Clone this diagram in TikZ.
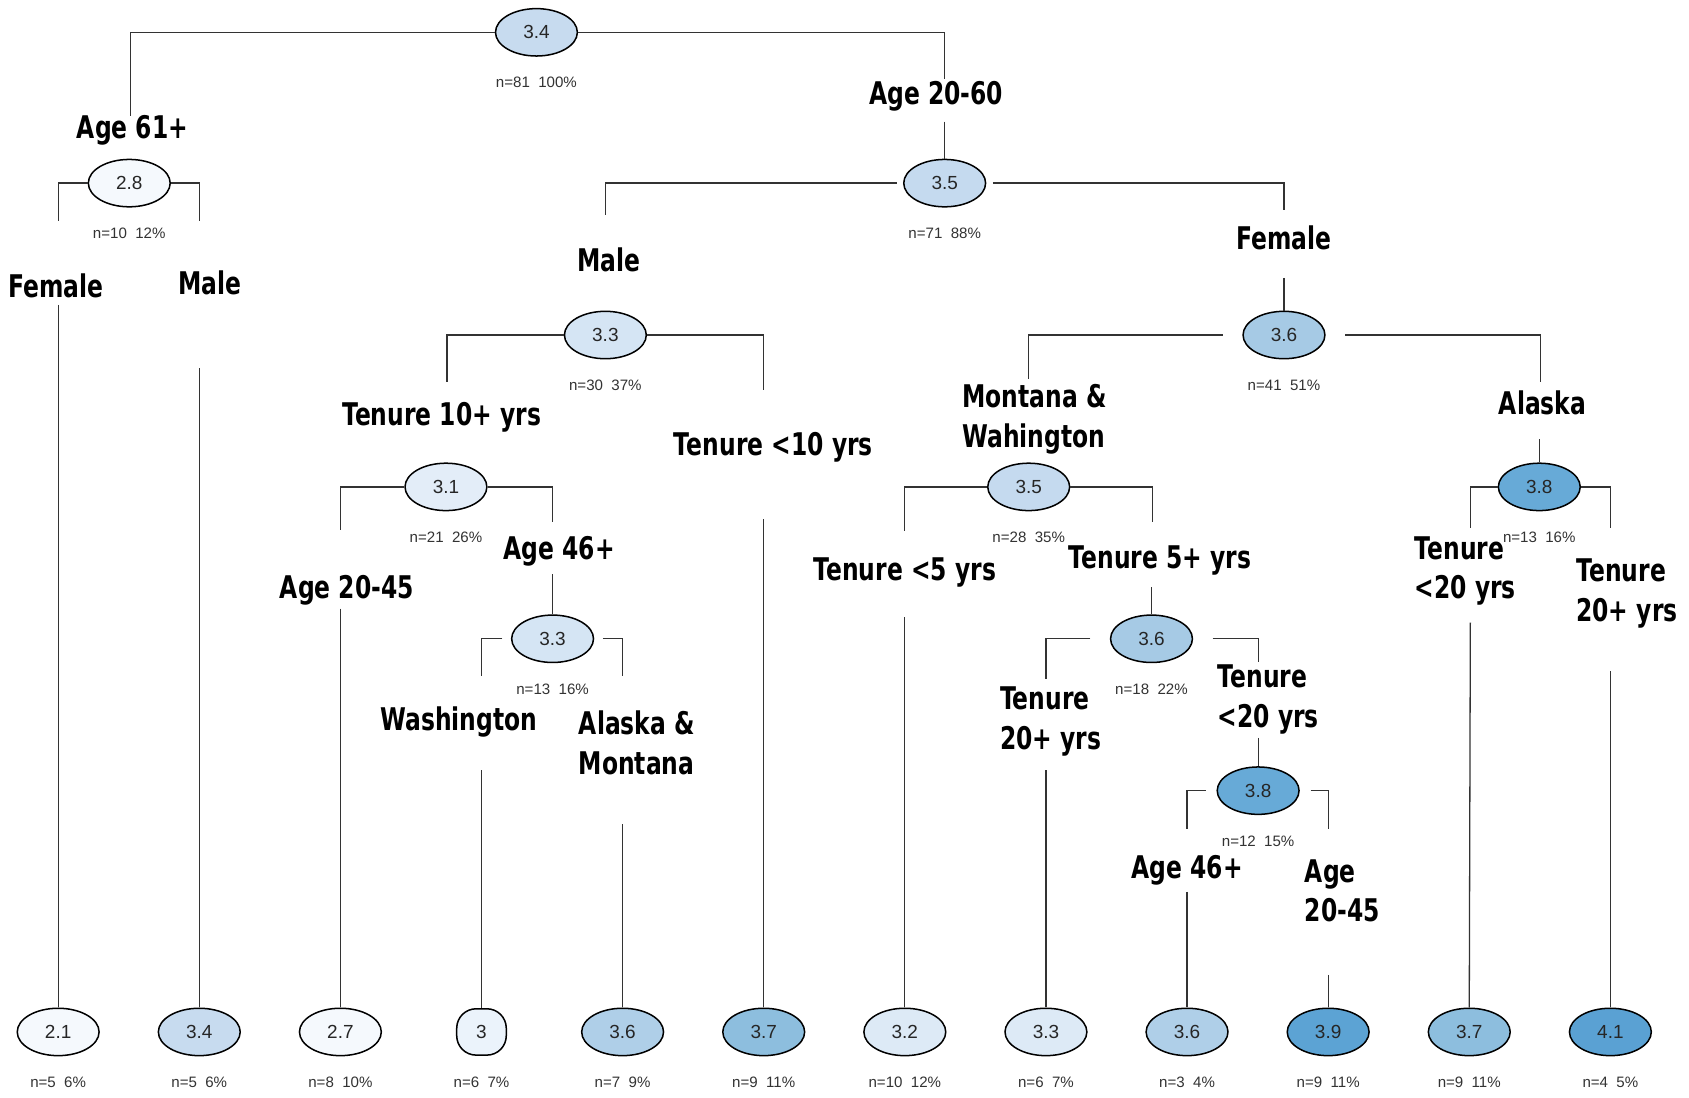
\documentclass[tikz,border=0pt]{standalone}
\usepackage{fontspec}
\setmainfont{Liberation Sans}
\newfontfamily\labfamily[FakeStretch=0.75]{DejaVu Sans}
\usetikzlibrary{shapes.geometric}
\definecolor{c21}{HTML}{F5F9FD}
\definecolor{c30}{HTML}{EBF3FB}
\definecolor{c31}{HTML}{E3EDF8}
\definecolor{c32}{HTML}{DDEAF6}
\definecolor{c33}{HTML}{D5E5F4}
\definecolor{c34}{HTML}{C7DBEF}
\definecolor{c35}{HTML}{C5DAEF}
\definecolor{c36}{HTML}{A6CAE5}
\definecolor{c36l}{HTML}{AFCFE8}
\definecolor{c37}{HTML}{8DBEDE}
\definecolor{c38}{HTML}{67AAD7}
\definecolor{c39}{HTML}{5CA3D4}
\definecolor{c41}{HTML}{5AA1D3}
\tikzset{
  nd/.style={ellipse, draw=black, line width=0.7pt, minimum width=38pt, minimum height=22pt,
    inner sep=0pt, font=\fontsize{8.8}{10}\selectfont, text=black!85},
  rr/.style={rectangle, rounded corners=9pt, draw=black, line width=0.7pt, minimum width=23pt,
    minimum height=21.5pt, inner sep=0pt, font=\fontsize{8.8}{10}\selectfont, text=black!85},
  lab/.style={font=\labfamily\bfseries\fontsize{14.5}{18.5}\selectfont, inner sep=0pt, align=left},
  cnt/.style={font=\fontsize{7}{8}\selectfont, inner sep=0pt, text=black!80},
  br/.style={draw=black!80, line width=0.6pt},
}
\begin{document}
\begin{tikzpicture}[x=0.5pt, y=-0.5pt]
\useasboundingbox (0,0) rectangle (1568,1019);
\fill[white] (0,0) rectangle (1568,1019);

% ---------- internal nodes ----------
\node[nd, fill=c34] (r) at (498,30) {3.4};
\node[cnt] (rc) at (498,76) {n=81\ \ 100\%};
\node[nd, fill=c21] (n28) at (120,170) {2.8};
\node[cnt] (n28c) at (120,217) {n=10\ \ 12\%};
\node[nd, fill=c35] (n35) at (877,170) {3.5};
\node[cnt] (n35c) at (877,217) {n=71\ \ 88\%};
\node[nd, fill=c33] (n33) at (562,311) {3.3};
\node[cnt] (n33c) at (562,358) {n=30\ \ 37\%};
\node[nd, fill=c31] (n31) at (414,452) {3.1};
\node[cnt] (n31c) at (414,499) {n=21\ \ 26\%};
\node[nd, fill=c33] (n33b) at (513,593) {3.3};
\node[cnt] (n33bc) at (513,640) {n=13\ \ 16\%};
\node[nd, fill=c36] (n36) at (1192,311) {3.6};
\node[cnt] (n36c) at (1192,358) {n=41\ \ 51\%};
\node[nd, fill=c35] (n35b) at (955,452) {3.5};
\node[cnt] (n35bc) at (955,499) {n=28\ \ 35\%};
\node[nd, fill=c36] (n36b) at (1069,593) {3.6};
\node[cnt] (n36bc) at (1069,640) {n=18\ \ 22\%};
\node[nd, fill=c38] (n38b) at (1168,734) {3.8};
\node[cnt] (n38bc) at (1168,781) {n=12\ \ 15\%};
\node[nd, fill=c38] (n38) at (1429,452) {3.8};
\node[cnt] (n38c) at (1429,499) {n=13\ \ 16\%};

% ---------- leaves ----------
\node[nd, fill=c21] (L1) at (54,958) {2.1};
\node[nd, fill=c34] (L2) at (185,958) {3.4};
\node[nd, fill=c21] (L3) at (316,958) {2.7};
\node[rr, fill=c30] (L4) at (447,958) {3};
\node[nd, fill=c36l] (L5) at (578,958) {3.6};
\node[nd, fill=c37] (L6) at (709,958) {3.7};
\node[nd, fill=c32] (L7) at (840,958) {3.2};
\node[nd, fill=c32] (L8) at (971,958) {3.3};
\node[nd, fill=c36l] (L9) at (1102,958) {3.6};
\node[nd, fill=c39] (L10) at (1233,958) {3.9};
\node[nd, fill=c37] (L11) at (1364,958) {3.7};
\node[nd, fill=c41] (L12) at (1495,958) {4.1};
\node[cnt] at (54,1005) {n=5\ \ 6\%};
\node[cnt] at (185,1005) {n=5\ \ 6\%};
\node[cnt] at (316,1005) {n=8\ \ 10\%};
\node[cnt] at (447,1005) {n=6\ \ 7\%};
\node[cnt] at (578,1005) {n=7\ \ 9\%};
\node[cnt] at (709,1005) {n=9\ \ 11\%};
\node[cnt] at (840,1005) {n=10\ \ 12\%};
\node[cnt] at (971,1005) {n=6\ \ 7\%};
\node[cnt] at (1102,1005) {n=3\ \ 4\%};
\node[cnt] at (1233,1005) {n=9\ \ 11\%};
\node[cnt] at (1364,1005) {n=9\ \ 11\%};
\node[cnt] at (1495,1005) {n=4\ \ 5\%};

% ---------- labels ----------
\node[lab] (a61) at (123,121) {Age 61+};
\node[lab] (a2060) at (869,89) {Age 20-60};
\node[lab] (fL) at (52,265) {Female};
\node[lab] (mL) at (195,263) {Male};
\node[lab] (mM) at (565,241) {Male};
\node[lab] (fR) at (1192,221) {Female};
\node[lab] (t10p) at (410,387) {Tenure 10+ yrs};
\node[lab] (t10m) at (718,415) {Tenure <10 yrs};
\node[lab] (a2045) at (322,548) {Age 20-45};
\node[lab] (a46) at (519,512) {Age 46+};
\node[lab] (wa) at (426,670) {Washington};
\node[lab, anchor=west] (akmt) at (537,690) {Alaska \&\\Montana};
\node[lab, anchor=west] (mtwa) at (893,389) {Montana \&\\Wahington};
\node[lab] (ak) at (1432,374) {Alaska};
\node[lab] (t5m) at (840,531) {Tenure <5 yrs};
\node[lab] (t5p) at (1077,520) {Tenure 5+ yrs};
\node[lab, anchor=west] (t20pA) at (928,670) {Tenure\\20+ yrs};
\node[lab, anchor=west] (t20mA) at (1130,649) {Tenure\\<20 yrs};
\node[lab] (a46b) at (1102,808) {Age 46+};
\node[lab, anchor=west] (a2045b) at (1211,827) {Age\\20-45};
\node[lab, anchor=west] (t20mB) at (1313,530) {Tenure\\<20 yrs};
\node[lab, anchor=west] (t20pB) at (1463,551) {Tenure\\20+ yrs};

% ---------- free ends ----------
\coordinate (e1) at (121,108);
\coordinate (e2) at (877,73);
\coordinate (e3) at (877,113);
\coordinate (e4) at (54,205);
\coordinate (e5) at (185,205);
\coordinate (e6) at (54,283);
\coordinate (e7) at (185,342);
\coordinate (e8) at (562,200);
\coordinate (e9) at (1192,195);
\coordinate (e10) at (1192,258);
\coordinate (e11) at (415,355);
\coordinate (e12) at (709,362);
\coordinate (e13) at (316,492);
\coordinate (e14) at (513,485);
\coordinate (e15) at (316,565);
\coordinate (e16) at (513,533);
\coordinate (e17) at (447,628);
\coordinate (e18) at (578,628);
\coordinate (e19) at (447,715);
\coordinate (e20) at (578,765);
\coordinate (e21) at (709,482);
\coordinate (e22) at (955,352);
\coordinate (e23) at (1430,355);
\coordinate (e24) at (840,493);
\coordinate (e25) at (1070,485);
\coordinate (e26) at (840,573);
\coordinate (e27) at (1069,545);
\coordinate (e28) at (971,630);
\coordinate (e29) at (1168,615);
\coordinate (e30) at (971,715);
\coordinate (e31) at (1168,685);
\coordinate (e32) at (1102,770);
\coordinate (e33) at (1233,770);
\coordinate (e34) at (1102,828);
\coordinate (e35) at (1233,905);
\coordinate (e36) at (1429,408);
\coordinate (e37) at (1365,490);
\coordinate (e38) at (1495,490);
\coordinate (e39) at (1365,578);
\coordinate (e40) at (1495,623);

% ---------- connectors ----------
\draw[br] (r.west) -| (e1);
\draw[br] (r.east) -| (e2);
\draw[br] (e3) -- (n35.north);
\draw[br] (n28.west) -| (e4);
\draw[br] (n28.east) -| (e5);
\draw[br] (e6) -- (L1.north);
\draw[br] (e7) -- (L2.north);
\draw[br] ([xshift=-3pt]n35.west) -| (e8);
\draw[br] ([xshift=3pt]n35.east) -| (e9);
\draw[br] (e10) -- (n36.north);
\draw[br] (n33.west) -| (e11);
\draw[br] (n33.east) -| (e12);
\draw[br] (n31.west) -| (e13);
\draw[br] (n31.east) -| (e14);
\draw[br] (e15) -- (L3.north);
\draw[br] (e16) -- (n33b.north);
\draw[br] ([xshift=-4pt]n33b.west) -| (e17);
\draw[br] ([xshift=4pt]n33b.east) -| (e18);
\draw[br] (e19) -- (L4.north);
\draw[br] (e20) -- (L5.north);
\draw[br] (e21) -- (L6.north);
\draw[br] ([xshift=-9pt]n36.west) -| (e22);
\draw[br] ([xshift=9pt]n36.east) -| (e23);
\draw[br] (n35b.west) -| (e24);
\draw[br] (n35b.east) -| (e25);
\draw[br] (e26) -- (L7.north);
\draw[br] (e27) -- (n36b.north);
\draw[br] ([xshift=-9pt]n36b.west) -| (e28);
\draw[br] ([xshift=9pt]n36b.east) -| (e29);
\draw[br] (e30) -- (L8.north);
\draw[br] (e31) -- (n38b.north);
\draw[br] ([xshift=-5pt]n38b.west) -| (e32);
\draw[br] ([xshift=5pt]n38b.east) -| (e33);
\draw[br] (e34) -- (L9.north);
\draw[br] (e35) -- (L10.north);
\draw[br] (e36) -- (n38.north);
\draw[br] (n38.west) -| (e37);
\draw[br] (n38.east) -| (e38);
\draw[br] (e39) -- (L11.north);
\draw[br] (e40) -- (L12.north);
\end{tikzpicture}
\end{document}
